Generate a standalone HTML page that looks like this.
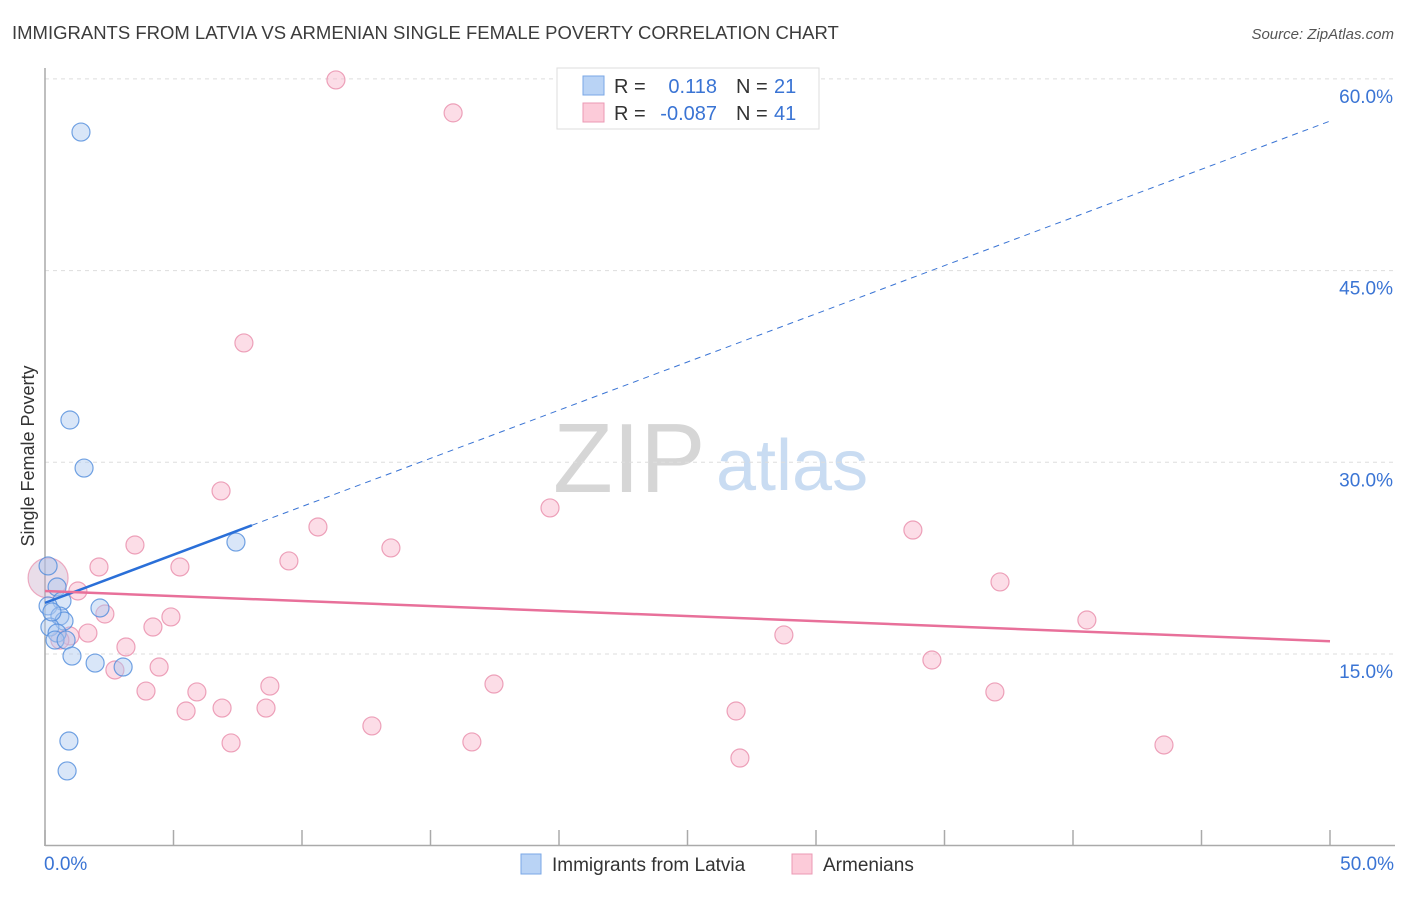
<!DOCTYPE html>
<html><head><meta charset="utf-8"><style>
body{margin:0;background:#fff;font-family:"Liberation Sans",sans-serif;}
svg text{font-family:"Liberation Sans",sans-serif;}
</style></head><body>
<svg id="chart" width="1406" height="892">
<text x="12" y="39" font-size="18.5" fill="#3c3c3c">IMMIGRANTS FROM LATVIA VS ARMENIAN SINGLE FEMALE POVERTY CORRELATION CHART</text>
<text x="1394" y="39" font-size="15" fill="#555" font-style="italic" text-anchor="end">Source: ZipAtlas.com</text>
<g>
<text x="553" y="492" font-size="98" fill="#d6d6d6" font-family="Liberation Serif, serif">ZIP</text>
<text x="716" y="490" font-size="72" fill="#c9dcf2">atlas</text>
</g>
<g id="grid"></g>
<g id="axes"></g>
<g id="marks"></g>
<g>
<rect x="557" y="68" width="262" height="61" fill="#fff" stroke="#ddd"/>
<rect x="583" y="76" width="21" height="19" fill="#b9d3f5" stroke="#7aa7e6"/>
<rect x="583" y="103" width="21" height="19" fill="#fccbd9" stroke="#eb9ab4"/>
<text x="614" y="93" font-size="20" fill="#333">R =</text>
<text x="717" y="93" font-size="20" fill="#3a74d4" text-anchor="end">0.118</text>
<text x="736" y="93" font-size="20" fill="#333">N =</text>
<text x="774" y="93" font-size="20" fill="#3a74d4">21</text>
<text x="614" y="120" font-size="20" fill="#333">R =</text>
<text x="717" y="120" font-size="20" fill="#3a74d4" text-anchor="end">-0.087</text>
<text x="736" y="120" font-size="20" fill="#333">N =</text>
<text x="774" y="120" font-size="20" fill="#3a74d4">41</text>
</g>
<g>
<rect x="521" y="854" width="20" height="20" fill="#b9d3f5" stroke="#7aa7e6"/>
<text x="552" y="871" font-size="19" fill="#333">Immigrants from Latvia</text>
<rect x="792" y="854" width="20" height="20" fill="#fccbd9" stroke="#eb9ab4"/>
<text x="823" y="871" font-size="19" fill="#333">Armenians</text>
</g>
<text transform="translate(34,456) rotate(-90)" font-size="18" fill="#333" text-anchor="middle">Single Female Poverty</text>
</svg>
<script>
const yTicks=[15,30,45,60];
const yTickLabels=["15.0%","30.0%","45.0%","60.0%"];
const xTickLabels=["0.0%","50.0%"];
const latviaX=[1.40,0.97,1.52,7.43,0.12,0.47,0.66,0.12,2.14,0.58,0.74,0.19,0.47,0.39,0.82,1.05,1.95,3.04,0.93,0.86,0.27];
const latviaY=[55.84,33.31,29.55,23.76,21.89,20.24,19.15,18.76,18.60,17.97,17.58,17.11,16.64,16.09,16.09,14.84,14.29,13.98,8.19,5.85,18.29];
const armX=[11.32,15.88,7.74,6.85,19.65,10.62,33.77,3.50,13.46,9.49,5.25,2.10,37.16,1.28,2.33,4.90,4.20,40.54,1.67,0.97,28.75,3.15,4.44,2.72,34.51,17.47,8.75,3.93,5.91,36.96,5.49,6.89,8.60,26.89,12.72,7.24,16.61,43.54,27.04,0.58];
const armY=[59.92,57.34,39.34,27.76,26.43,24.94,24.70,23.53,23.30,22.28,21.81,21.81,20.64,19.93,18.13,17.90,17.11,17.66,16.64,16.41,16.49,15.55,13.98,13.75,14.53,12.65,12.49,12.10,12.03,12.03,10.54,10.77,10.77,10.54,9.37,8.04,8.12,7.88,6.86,16.09];
const armBigX=[0.12], armBigY=[20.95];
const latviaTrend=[19.0,56.7];
const latviaSolidEnd=8.05;
const armTrend=[19.93,16.0];
const NS="http://www.w3.org/2000/svg";
const sx=v=>45+v*25.7, sy=v=>845.7-v*12.78;
function mk(t,a,p){const e=document.createElementNS(NS,t);for(const k in a)e.setAttribute(k,a[k]);document.getElementById(p).appendChild(e);return e;}
yTicks.forEach((t,i)=>{
 const l=mk('line',{x1:45,x2:1395,y1:sy(t),y2:sy(t),stroke:'#ddd','stroke-dasharray':'4,4'},'grid');
 
 
 const tx=mk('text',{x:1393,y:sy(t)+24,'font-size':19,fill:'#3a74d4','text-anchor':'end'},'grid');
 tx.textContent=yTickLabels[i];
 
 
});
let a=mk('line',{x1:45,x2:45,y1:68,y2:846,stroke:'#aaa','stroke-width':1.5},'axes');


a=mk('line',{x1:45,x2:1395,y1:845.5,y2:845.5,stroke:'#aaa','stroke-width':1.5},'axes');


for(let i=0;i<=10;i++){const t=mk('line',{x1:sx(i*5),x2:sx(i*5),y1:830,y2:846,stroke:'#aaa','stroke-width':1.5},'axes');
 
 }
[0,50].forEach((v,i)=>{const t=mk('text',{x:i?1394:44,y:870,'font-size':19,fill:'#3a74d4','text-anchor':i?'end':'start'},'axes');t.textContent=xTickLabels[i];
 
 });
armX.forEach((x,i)=>{const c=mk('circle',{cx:sx(x),cy:sy(armY[i]),r:9,fill:'rgba(248,180,202,0.45)',stroke:'rgba(232,140,170,0.8)','stroke-width':1.2},'marks');
 
 });
armBigX.forEach((x,i)=>{const c=mk('circle',{cx:sx(x),cy:sy(armBigY[i]),r:20,fill:'rgba(200,170,200,0.4)',stroke:'rgba(232,140,170,0.7)','stroke-width':1.2},'marks');
 
 });
latviaX.forEach((x,i)=>{const c=mk('circle',{cx:sx(x),cy:sy(latviaY[i]),r:9,fill:'rgba(170,200,240,0.45)',stroke:'rgba(80,140,220,0.8)','stroke-width':1.2},'marks');
 
 });
const ly=x=>latviaTrend[0]+(latviaTrend[1]-latviaTrend[0])*x/50;
let l=mk('line',{x1:sx(latviaSolidEnd),y1:sy(ly(latviaSolidEnd)),x2:sx(50),y2:sy(ly(50)),stroke:'#3a74d4','stroke-width':1,'stroke-dasharray':'6,5'},'marks');


l=mk('line',{x1:sx(0),y1:sy(ly(0)),x2:sx(latviaSolidEnd),y2:sy(ly(latviaSolidEnd)),stroke:'#2a6fd8','stroke-width':2.5},'marks');


l=mk('line',{x1:sx(0),y1:sy(armTrend[0]),x2:sx(50),y2:sy(armTrend[1]),stroke:'#e8709a','stroke-width':2.5},'marks');


</script>
</body></html>
